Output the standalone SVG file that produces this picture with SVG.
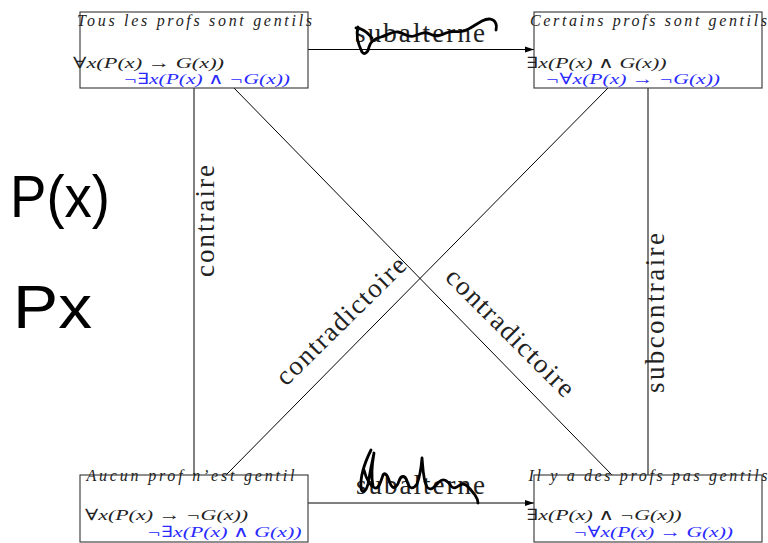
<svg xmlns="http://www.w3.org/2000/svg" width="768" height="543" viewBox="0 0 768 543">
<defs>
<marker id="arr" markerWidth="10" markerHeight="8" refX="9" refY="3.5" orient="auto" markerUnits="userSpaceOnUse">
<path d="M0,0.5 L9,3.5 L0,6.5 Z" fill="#000"/>
</marker>
<style>
.box{fill:#fff;stroke:#333;stroke-width:1.1}
.ln{stroke:#000;stroke-width:1;fill:none}
.ttl{font-family:"Liberation Serif","DejaVu Serif",serif;font-style:italic;fill:#222}
.m{font-family:"Liberation Serif","DejaVu Serif",serif;font-style:italic;fill:#222}
.b{fill:#2a2aff}
.lab{font-family:"Liberation Serif","DejaVu Serif",serif;fill:#222}
.hw{font-family:"Liberation Sans","DejaVu Sans",sans-serif;fill:#000}
.ink{fill:none;stroke:#000;stroke-width:2.8;stroke-linecap:round;stroke-linejoin:round}
</style>
</defs>
<rect width="768" height="543" fill="#fff"/>

<g id="connectors">
<line class="ln" x1="308" y1="49.5" x2="534" y2="49.5" marker-end="url(#arr)"/>
<line class="ln" x1="308" y1="503" x2="534" y2="503" marker-end="url(#arr)"/>
<line class="ln" x1="194" y1="88" x2="194" y2="475"/>
<line class="ln" x1="648" y1="88" x2="648" y2="475"/>
<line class="ln" x1="234" y1="88" x2="612" y2="475"/>
<line class="ln" x1="608" y1="88" x2="226" y2="475"/>
<text class="lab" font-size="27" x="355" y="42" textLength="130" lengthAdjust="spacing">subalterne</text>
<text class="lab" font-size="27" x="356" y="494" textLength="129" lengthAdjust="spacing">subalterne</text>
<text class="lab" font-size="27" transform="translate(214,277) rotate(-90)" textLength="112" lengthAdjust="spacing">contraire</text>
<text class="lab" font-size="27" transform="translate(664,393) rotate(-90)" textLength="160" lengthAdjust="spacing">subcontraire</text>
<text class="lab" font-size="27" transform="translate(286,387) rotate(-44.5)" textLength="171" lengthAdjust="spacing">contradictoire</text>
<text class="lab" font-size="27" transform="translate(444,278.5) rotate(45)" textLength="170" lengthAdjust="spacing">contradictoire</text>
</g>

<g id="n-tous">
<rect class="box" x="80" y="12" width="228" height="76"/>
<text class="ttl" font-size="16" x="77" y="25.5" textLength="235" lengthAdjust="spacing">Tous les profs sont gentils</text>
<text class="m" font-size="15.5" x="73" y="68" textLength="151" lengthAdjust="spacingAndGlyphs">∀x(P(x) → G(x))</text>
<text class="m b" font-size="15.5" x="123" y="84" textLength="167" lengthAdjust="spacingAndGlyphs">¬∃x(P(x) ∧ ¬G(x))</text>
</g>

<g id="n-certains">
<rect class="box" x="534" y="12" width="228" height="76"/>
<text class="ttl" font-size="16" x="530" y="25.5" textLength="237" lengthAdjust="spacing">Certains profs sont gentils</text>
<text class="m" font-size="15.5" x="526.5" y="68" textLength="140" lengthAdjust="spacingAndGlyphs">∃x(P(x) ∧ G(x))</text>
<text class="m b" font-size="15.5" x="545" y="84" textLength="175" lengthAdjust="spacingAndGlyphs">¬∀x(P(x) → ¬G(x))</text>
</g>

<g id="n-aucun">
<rect class="box" x="80" y="475" width="228" height="67"/>
<text class="ttl" font-size="16" x="86.5" y="481" textLength="208" lengthAdjust="spacing">Aucun prof n’est gentil</text>
<text class="m" font-size="15.5" x="85" y="520" textLength="163" lengthAdjust="spacingAndGlyphs">∀x(P(x) → ¬G(x))</text>
<text class="m b" font-size="15.5" x="146.5" y="536.5" textLength="155" lengthAdjust="spacingAndGlyphs">¬∃x(P(x) ∧ G(x))</text>
</g>

<g id="n-ilya">
<rect class="box" x="534" y="475" width="228" height="67"/>
<text class="ttl" font-size="16" x="528.5" y="480.5" textLength="239" lengthAdjust="spacing">Il y a des profs pas gentils</text>
<text class="m" font-size="15.5" x="526.5" y="520" textLength="155" lengthAdjust="spacingAndGlyphs">∃x(P(x) ∧ ¬G(x))</text>
<text class="m b" font-size="15.5" x="573" y="536.5" textLength="160" lengthAdjust="spacingAndGlyphs">¬∀x(P(x) → G(x))</text>
</g>

<g id="ink">
<path class="ink" d="M358,27 C356,34 358,44 362,52 C364,55 368,53 369,47 C371,40 376,38 381,37 C388,35 392,31 398,32 C404,33 408,38 414,36 C420,34 424,31 430,34 C436,37 440,36 446,33 C452,30 458,33 464,31 C470,29 476,24 482,21 C488,18 494,18 496,24 C497,27 496,29 496,30"/>
<path class="ink" d="M356,28 C362,28 368,33 372,38"/>
<path class="ink" d="M371,450 C365,462 360,476 361,488 C362,494 366,492 368,484 C370,472 372,462 374,453 C372,464 371,476 373,486 M364,470 C366,478 370,486 375,488 C379,489 381,481 383,475 C385,471 388,476 390,483 C393,491 397,487 399,481 C401,475 405,475 407,481 C409,489 413,490 417,484 C419,479 421,470 422,458 C423,468 423,480 427,487 C431,492 435,486 439,482 C443,478 447,480 451,486 C455,491 459,484 463,484 C467,484 471,490 475,495 C477,498 478,500 478,503"/>
</g>

<g id="handwriting">
<text class="hw" font-size="60" x="10" y="217" textLength="100" lengthAdjust="spacingAndGlyphs">P(x)</text>
<text class="hw" font-size="62" x="13" y="328" textLength="79" lengthAdjust="spacingAndGlyphs">Px</text>
</g>
</svg>
